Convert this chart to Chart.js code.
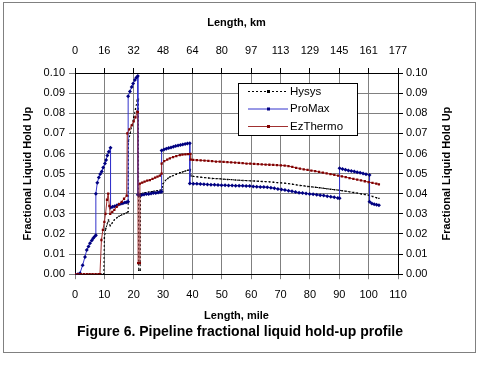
<!DOCTYPE html>
<html>
<head>
<meta charset="utf-8">
<script src="https://cdn.jsdelivr.net/npm/chart.js@4.4.1/dist/chart.umd.min.js"></script>
<style>
  html, body { margin: 0; padding: 0; background: #fff; }
</style>
</head>
<body>
<canvas id="chart1" width="480" height="384"></canvas>
<script>
// top axis labels (km), same tick positions as the mile axis
const kmLabels = ['0', '16', '32', '48', '64', '80', '97', '113', '129', '145', '161', '177'];

// Hysys
const hysysMile = [0, 1, 2, 3, 4, 5, 6, 7, 8, 9, 9.8,
  10.0, 10.5, 11.0, 11.4, 12.0, 12.7, 13.4, 14.2, 15.0, 15.9, 16.7, 17.5, 18.1,
  18.2, 18.8, 19.4, 20.0, 20.6, 21.2, 21.6,
  21.7, 22.2, 22.3, 23.1, 24.0, 25.0, 26.0, 27.0, 28.0, 29.0, 29.6,
  30.0, 30.8, 31.6, 32.4, 33.4, 34.5, 35.7, 36.6, 37.6, 38.5, 39.3,
  39.5, 40.3, 41.6, 42.9, 44.2, 45.5, 46.8, 48.1, 49.4, 50.7, 52.0, 53.3, 54.6, 55.9, 57.2,
  58.5, 59.8, 61.1, 62.4, 63.7, 65.0, 66.3, 67.6, 68.9, 70.2, 71.5, 72.8, 74.1, 75.4, 76.7,
  78.0, 79.3, 80.6, 81.9, 83.2, 84.5, 85.8, 87.1, 88.4, 89.7, 91.0, 92.3, 93.6, 94.9, 96.2,
  97.5, 98.8, 100.1, 101.4, 102.7, 103.5];
const hysysHold = [0, 0, 0, 0, 0, 0, 0, 0, 0, 0, 0,
  0.018, 0.0227, 0.025, 0.027, 0.024, 0.0255, 0.027, 0.028, 0.0288, 0.0295, 0.030, 0.0305, 0.031,
  0.066, 0.070, 0.074, 0.078, 0.082, 0.0866, 0.087,
  0.002, 0.002, 0.040, 0.0403, 0.0405, 0.0408, 0.041, 0.0413, 0.0415, 0.0418, 0.042,
  0.045, 0.0466, 0.0476, 0.0484, 0.049, 0.0497, 0.0504, 0.0508, 0.0513, 0.0517, 0.052,
  0.0488, 0.0486, 0.0484, 0.0482, 0.0480, 0.0478, 0.0476, 0.0475, 0.0474, 0.0472, 0.0471, 0.0470, 0.0468, 0.0467, 0.0466,
  0.0465, 0.0464, 0.0463, 0.0462, 0.0461, 0.0460, 0.0459, 0.0457, 0.0455, 0.0454, 0.0452, 0.0450, 0.0447, 0.0444, 0.0441,
  0.0439, 0.0436, 0.0434, 0.0432, 0.0430, 0.0427, 0.0425, 0.0422, 0.0420, 0.0418, 0.0415, 0.0412, 0.0409, 0.0406, 0.0403,
  0.0399, 0.0396, 0.0392, 0.0386, 0.0380, 0.0377];

// ProMax
const promaxMile = [0, 1, 1.7, 2.6, 3.4, 4.0, 4.6, 5.1, 5.7, 6.2, 6.7, 7.1,
  7.1, 7.6, 8.1, 8.6, 9.1, 9.6, 10.2, 10.6, 11.0, 11.5, 12.1,
  12.1, 12.8, 13.5, 14.2, 14.9, 15.6, 16.3, 17.0, 17.6, 18.1,
  18.1, 18.7, 19.3, 19.8, 20.4, 20.9, 21.4,
  21.4, 22.0, 22.7, 23.5, 24.3, 25.1, 25.9, 26.7, 27.5, 28.3, 29.0, 29.5,
  29.5, 30.3, 31.1, 31.9, 32.7, 33.5, 34.3, 35.1, 35.9, 36.7, 37.5, 38.3, 39.1,
  39.1, 40.3, 41.5, 42.7, 43.9, 45.1, 46.3, 47.5, 48.7, 49.9, 51.1, 52.3, 53.5, 54.7, 55.9,
  57.1, 58.3, 59.5, 60.7, 61.9, 63.1, 64.3, 65.5, 66.7, 67.9, 69.1, 70.3, 71.5, 72.7, 73.9,
  75.1, 76.3, 77.5, 78.7, 79.9, 81.1, 82.3, 83.5, 84.7, 85.9, 87.1, 88.3, 89.5, 90.1,
  90.1, 91.1, 92.1, 93.1, 94.1, 95.1, 96.1, 97.1, 98.1, 99.1, 100.3,
  100.3, 101.1, 101.9, 102.7, 103.5];
const promaxHold = [0, 0, 0.0005, 0.0045, 0.0086, 0.012, 0.0138, 0.0154, 0.0167, 0.0179, 0.0187, 0.0194,
  0.040, 0.0455, 0.048, 0.0498, 0.051, 0.053, 0.055, 0.0568, 0.059, 0.0608, 0.0628,
  0.0330, 0.0335, 0.0338, 0.0342, 0.0346, 0.0350, 0.0353, 0.0356, 0.0358, 0.0360,
  0.0885, 0.0908, 0.093, 0.0948, 0.0965, 0.0978, 0.0985,
  0.0395, 0.0393, 0.0394, 0.0396, 0.0398, 0.0399, 0.0401, 0.0403, 0.0404, 0.0406, 0.0408, 0.0410,
  0.0615, 0.0620, 0.0624, 0.0627, 0.0630, 0.0634, 0.0637, 0.0640, 0.0642, 0.0645, 0.0647, 0.0649, 0.0651,
  0.0451, 0.0450, 0.0449, 0.0448, 0.0447, 0.0446, 0.0445, 0.0444, 0.0443, 0.0442, 0.0442, 0.0441, 0.0441, 0.0440, 0.0440,
  0.0439, 0.0438, 0.0438, 0.0436, 0.0435, 0.0434, 0.0433, 0.0432, 0.0430, 0.0427, 0.0424, 0.0421, 0.0418, 0.0415, 0.0412,
  0.0408, 0.0405, 0.0403, 0.0401, 0.0399, 0.0397, 0.0395, 0.0393, 0.0391, 0.0388, 0.0385, 0.0382, 0.0379, 0.0377,
  0.0527, 0.0523, 0.0519, 0.0516, 0.0513, 0.0510, 0.0507, 0.0504, 0.0500, 0.0497, 0.0493,
  0.0360, 0.0352, 0.0348, 0.0345, 0.0343];

// EzThermo
const ezMile = [0, 1, 2, 3, 4, 5, 6, 7, 8, 8.5,
  9.0, 9.5, 10.0, 10.4, 10.9, 11.3, 11.7, 12.0, 12.7, 13.4, 14.2, 15.0, 15.9, 16.7, 17.6,
  17.8, 18.5, 19.3, 20.0, 20.6, 21.2, 21.4,
  21.5, 22.1,
  22.1, 22.9, 23.7, 24.6, 25.5, 26.4, 27.3, 28.1, 28.9, 29.5,
  29.5, 30.4, 31.4, 32.3, 33.4, 34.5, 35.7, 36.6, 37.6, 38.5, 39.3,
  39.4, 40.2, 41.5, 42.8, 44.1, 45.4, 46.7, 48.0, 49.3, 50.6, 51.9, 53.2, 54.5, 55.8, 57.1,
  58.4, 59.7, 61.0, 62.3, 63.6, 64.9, 66.2, 67.5, 68.8, 70.1, 71.4, 72.7, 74.0, 75.3, 76.6,
  77.9, 79.2, 80.5, 81.8, 83.1, 84.4, 85.7, 87.0, 88.3, 89.6, 90.9, 92.2, 93.5, 94.8, 96.1,
  97.4, 98.7, 100.0, 101.3, 102.6, 103.5];
const ezHold = [0, 0, 0, 0, 0, 0, 0, 0, 0, 0,
  0.017, 0.022, 0.026, 0.030, 0.037, 0.040, 0.034, 0.030, 0.031, 0.032, 0.0335, 0.0348, 0.036, 0.0375, 0.039,
  0.070, 0.072, 0.074, 0.076, 0.078, 0.0808, 0.0805,
  0.0055, 0.0055,
  0.045, 0.0455, 0.046, 0.0465, 0.0468, 0.0474, 0.048, 0.0485, 0.049, 0.050,
  0.055, 0.0562, 0.057, 0.0576, 0.0582, 0.0587, 0.0592, 0.0594, 0.0596, 0.0597, 0.0598,
  0.0570, 0.0568, 0.0567, 0.0566, 0.0565, 0.0563, 0.0562, 0.0560, 0.0559, 0.0558, 0.0557, 0.0556, 0.0555, 0.0553, 0.0552,
  0.0550, 0.0549, 0.0548, 0.0547, 0.0546, 0.0545, 0.0544, 0.0543, 0.0542, 0.0541, 0.0540, 0.0537, 0.0533, 0.0529, 0.0525,
  0.0521, 0.0518, 0.0515, 0.0512, 0.0508, 0.0505, 0.0501, 0.0497, 0.0494, 0.0490, 0.0486, 0.0482, 0.0478, 0.0474, 0.0470,
  0.0466, 0.0462, 0.0458, 0.0454, 0.0450, 0.0447];

function toPoints(miles, holds) {
  return miles.map(function(m, i) { return { x: m, y: holds[i] }; });
}

const fontName = '"Liberation Sans", Arial, sans-serif';
const yTitle = 'Fractional Liquid Hold Up';

// frame, right-hand axis title and the legend box inside the plot
const figureExtras = {
  id: 'figureExtras',
  beforeDraw(chart) {
    const ctx = chart.ctx;
    ctx.save();
    ctx.fillStyle = '#fff';
    ctx.fillRect(0, 0, chart.width, chart.height);
    ctx.restore();
  },
  afterDraw(chart) {
    const ctx = chart.ctx;
    const area = chart.chartArea;
    ctx.save();
    ctx.strokeStyle = '#808080';
    ctx.lineWidth = 1;
    ctx.strokeRect(3.5, 2.5, 472, 350);

    ctx.fillStyle = '#000';
    ctx.font = 'bold 11px ' + fontName;
    ctx.textAlign = 'center';
    ctx.textBaseline = 'middle';
    ctx.translate(447, (area.top + area.bottom) / 2);
    ctx.rotate(-Math.PI / 2);
    ctx.fillText(yTitle, 0, 0);
    ctx.restore();

    // legend
    ctx.save();
    ctx.fillStyle = '#fff';
    ctx.fillRect(238.5, 83.5, 119, 52);
    ctx.strokeStyle = '#000';
    ctx.lineWidth = 1;
    ctx.strokeRect(238.5, 83.5, 119, 52);
    ctx.font = '11.5px ' + fontName;
    ctx.textBaseline = 'middle';
    ctx.textAlign = 'left';
    chart.data.datasets.forEach(function(ds, i) {
      const y = 91.5 + i * 17.5;
      ctx.strokeStyle = ds.borderColor;
      ctx.lineWidth = 1;
      ctx.setLineDash(ds.borderDash || []);
      ctx.beginPath();
      ctx.moveTo(248, y);
      ctx.lineTo(288, y);
      ctx.stroke();
      ctx.setLineDash([]);
      ctx.fillStyle = ds.pointBackgroundColor;
      ctx.fillRect(267, y - 1.5, 3, 3);
      ctx.fillStyle = '#000';
      ctx.fillText(ds.label, 290, y);
    });
    ctx.restore();
  }
};

const ctx1 = document.getElementById('chart1').getContext('2d');
new Chart(ctx1, {
  type: 'scatter',
  data: {
    datasets: [{
      label: 'Hysys',
      data: toPoints(hysysMile, hysysHold),
      showLine: true,
      borderColor: '#000000',
      borderWidth: 1,
      borderDash: [2, 2],
      pointStyle: 'rect',
      pointRadius: 1,
      pointBackgroundColor: '#000000',
      pointBorderColor: '#000000',
      pointBorderWidth: 0,
      order: 3
    }, {
      label: 'ProMax',
      data: toPoints(promaxMile, promaxHold),
      showLine: true,
      borderColor: '#3333cc',
      borderWidth: 1,
      pointStyle: 'rectRot',
      pointRadius: 2,
      pointBackgroundColor: '#000080',
      pointBorderColor: '#000080',
      pointBorderWidth: 0,
      order: 2
    }, {
      label: 'EzThermo',
      data: toPoints(ezMile, ezHold),
      showLine: true,
      borderColor: '#a03030',
      borderWidth: 1,
      pointStyle: 'rect',
      pointRadius: 1.6,
      pointBackgroundColor: '#800000',
      pointBorderColor: '#800000',
      pointBorderWidth: 0,
      order: 1
    }]
  },
  options: {
    responsive: false,
    animation: false,
    devicePixelRatio: 1,
    layout: { padding: { left: 0, right: 0, top: 0, bottom: 43 } },
    plugins: {
      legend: { display: false },
      tooltip: { enabled: false },
      title: {
        display: true,
        position: 'bottom',
        text: 'Figure 6. Pipeline fractional liquid hold-up profile',
        color: '#000',
        font: { family: fontName, size: 14, weight: 'bold' },
        padding: { top: 1, bottom: 0 }
      }
    },
    scales: {
      x: {
        type: 'linear',
        position: 'bottom',
        min: 0,
        max: 110,
        afterFit: function(scale) { scale.height = 49; },
        ticks: { stepSize: 10, color: '#000', padding: 9, maxRotation: 0, font: { family: fontName, size: 11 } },
        grid: { color: '#808080', tickLength: 5 },
        border: { color: '#000' },
        title: { display: true, text: 'Length, mile', color: '#000', padding: { top: 0, bottom: 1 },
                 font: { family: fontName, size: 11, weight: 'bold' } }
      },
      x2: {
        type: 'linear',
        position: 'top',
        min: 0,
        max: 110,
        afterFit: function(scale) { scale.height = 73; },
        ticks: {
          stepSize: 10, color: '#000', padding: 10, maxRotation: 0,
          font: { family: fontName, size: 11 },
          callback: function(value, index) { return kmLabels[index]; }
        },
        grid: { drawOnChartArea: false, color: '#000', tickLength: 5 },
        border: { color: '#000' },
        title: { display: true, text: 'Length, km', color: '#000', padding: { top: 16, bottom: 0 },
                 font: { family: fontName, size: 11, weight: 'bold' } }
      },
      y: {
        position: 'left',
        min: 0,
        max: 0.1,
        afterFit: function(scale) { scale.width = 75; },
        ticks: { stepSize: 0.01, color: '#000', padding: 4, font: { family: fontName, size: 11 },
                 callback: function(value) { return value.toFixed(2); } },
        grid: { color: '#808080', tickLength: 6 },
        border: { color: '#000' },
        title: { display: true, text: yTitle, color: '#000', padding: { top: 21, bottom: 0 },
                 font: { family: fontName, size: 11, weight: 'bold' } }
      },
      y2: {
        position: 'right',
        min: 0,
        max: 0.1,
        afterFit: function(scale) { scale.width = 82; },
        ticks: { stepSize: 0.01, color: '#000', padding: 3, font: { family: fontName, size: 11 },
                 callback: function(value) { return value.toFixed(2); } },
        grid: { drawOnChartArea: false, color: '#000', tickLength: 5 },
        border: { color: '#000' }
      }
    }
  },
  plugins: [figureExtras]
});
</script>
</body>
</html>
